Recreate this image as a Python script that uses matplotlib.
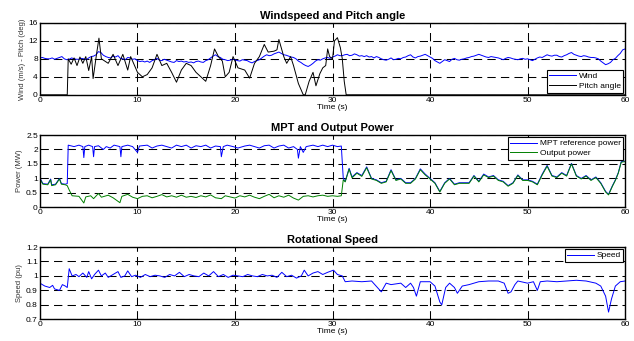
import numpy as np
import matplotlib
matplotlib.use('Agg')
import matplotlib.pyplot as plt

plt.rcParams['font.family'] = ['Liberation Sans', 'DejaVu Sans']

# ---- windspeed (m/s), sampled every 0.25 s
wind_t = np.arange(0, 60.25, 0.25)
wind = [8.2,
        8.3, 8.1, 8.0, 8.0, 8.2, 7.9, 8.1, 8.3, 8.5, 8.0, 7.8, 7.9, 8.2, 8.0, 7.9, 7.9, 8.1, 8.0, 7.8, 8.2,
        8.5, 8.6, 8.9, 9.6, 9.4, 8.8, 8.5, 8.3, 8.2, 8.6, 8.4, 8.7, 8.1, 8.0, 7.8, 8.3, 8.2, 7.9, 8.0, 7.6,
        7.4, 7.5, 7.3, 7.5, 7.2, 7.6, 7.8, 8.1, 7.7, 7.6, 7.9, 7.7, 7.5, 7.3, 7.2, 7.6, 7.4, 7.5, 7.3, 7.4,
        7.2, 7.3, 7.1, 7.4, 7.5, 7.3, 7.2, 7.6, 7.8, 8.2, 8.6, 8.9, 8.5, 8.3, 7.9, 7.8, 7.6, 7.7, 7.9, 7.8,
        7.6, 7.5, 7.8, 7.7, 7.6, 7.3, 7.1, 7.4, 7.6, 7.8, 8.2, 8.6, 8.9, 8.7, 8.8, 9.1, 9.3, 9.5, 9.2, 8.9,
        8.8, 8.6, 8.4, 8.3, 8.0, 7.5, 7.2, 6.8, 6.5, 6.3, 6.6, 7.0, 7.5, 7.8, 7.7, 8.0, 8.2, 8.3, 8.1, 8.4,
        8.6, 8.9, 8.7, 8.7, 8.9, 9.0, 8.7, 8.8, 9.1, 8.9, 8.6, 8.7, 8.5, 8.7, 8.4, 8.5, 8.2, 8.5, 8.3, 8.0,
        7.8, 7.7, 7.9, 8.2, 7.8, 7.9, 8.1, 8.0, 8.3, 8.4, 8.7, 8.9, 8.4, 8.2, 8.5, 8.6, 8.8, 9.0, 8.7, 8.4,
        8.1, 7.6, 7.3, 7.0, 7.4, 7.8, 7.6, 7.4, 7.9, 8.1, 7.8, 7.7, 7.9, 8.0, 8.2, 8.3, 8.5, 8.6, 8.8, 9.0,
        8.8, 8.6, 8.4, 8.3, 8.5, 8.4, 8.3, 8.2, 8.0, 7.8, 8.1, 8.3, 8.2, 8.0, 7.9, 7.8, 8.0, 8.1, 7.9, 8.0,
        7.8, 7.6, 7.9, 8.2, 8.4, 8.3, 8.6, 8.9, 8.7, 8.6, 8.8, 8.8, 8.5, 8.4, 8.7, 8.9, 9.2, 9.4, 9.0, 8.8,
        8.6, 8.5, 8.7, 8.6, 8.4, 8.3, 8.3, 8.2, 8.0, 7.5, 7.1, 6.7, 6.9, 7.2, 7.8, 8.1, 8.7, 9.2, 10.0, 10.2]

# ---- pitch angle (deg)
pitch_t = [0, 2.8, 2.9, 3.2, 3.5, 3.8, 4.1, 4.4, 4.7, 5.0, 5.3, 5.45, 5.8, 6.05, 6.3, 7.0,
           7.5, 8.0, 8.5, 9.0, 9.3, 9.7, 10.0, 10.5, 11.0, 11.5, 12.0, 12.5, 13.0, 13.5,
           14.0, 14.5, 15.0, 15.5, 16.0, 16.5, 17.0, 17.5, 17.9, 18.3, 18.7, 19.0, 19.4,
           19.8, 20.3, 21.0, 21.5, 22.0, 22.5, 23.0, 23.4, 24.0, 24.3, 24.5, 25.0, 25.3,
           25.7, 26.0, 26.5, 27.0, 27.2, 27.6, 28.0, 28.3, 28.7, 29.0, 29.3, 29.5, 29.7,
           30.0, 30.2, 30.5, 30.8, 31.0, 31.2, 31.4, 60]
pitch = [0, 0, 8.0, 6.8, 8.2, 6.5, 8.4, 7.0, 8.5, 5.4, 8.5, 3.6, 9.0, 12.6, 8.0, 7.0,
         9.0, 6.5, 9.0, 5.5, 8.5, 6.5, 5.0, 4.0, 4.5, 6.0, 9.0, 6.5, 7.0, 5.0,
         2.8, 5.5, 7.0, 6.5, 5.0, 4.0, 3.0, 6.5, 10.2, 8.5, 7.5, 4.0, 5.0,
         8.5, 6.0, 5.5, 3.7, 7.0, 8.5, 11.2, 9.5, 9.7, 10.0, 12.3, 8.5, 7.0,
         8.5, 6.5, 2.5, 0.0, 0.0, 3.0, 5.0, 2.0, 4.7, 6.0, 6.5, 10.2, 8.5,
         8.0, 12.0, 12.7, 10.5, 8.0, 3.0, 0.0, 0.0]

# ---- MPT reference power (MW)
mpt_t = [0, 0.3, 0.8, 1.1, 1.2, 1.6, 2.0, 2.2, 2.6, 2.8, 2.9, 3.5, 4.0, 4.4, 4.5, 4.6, 5.0,
         5.4, 5.5, 5.6, 6.0, 6.5, 6.8, 7.2, 7.6, 8.2, 8.3, 8.4, 9.0, 9.5, 10.0, 10.2, 11.0,
         11.5, 12.0, 12.5, 13.0, 13.5, 14.0, 14.5, 15.0, 15.5, 16.0, 16.5, 17.0, 17.5, 18.0,
         18.5, 18.6, 18.8, 19.2, 19.8, 20.3, 21.0, 21.5, 22.0, 22.5, 23.0, 23.5, 24.0, 24.5,
         25.0, 25.5, 26.0, 26.4, 26.5, 26.7, 27.0, 27.3, 28.0, 28.5, 29.0, 29.5, 30.0, 30.5,
         30.9, 31.1, 31.3, 31.7, 32.0, 32.5, 33.0, 33.5, 34.0, 34.5, 35.0, 35.5, 36.0, 36.5,
         37.0, 37.5, 38.0, 38.5, 39.0, 39.5, 40.0, 40.5, 41.0, 41.5, 42.0, 42.5, 43.0, 44.0,
         44.5, 45.0, 45.5, 46.0, 46.5, 47.0, 47.5, 48.0, 48.5, 49.0, 49.5, 50.0, 50.5, 51.0,
         51.5, 52.0, 52.5, 53.0, 53.5, 54.0, 54.5, 55.0, 55.5, 56.0, 56.5, 57.0, 57.5, 58.0,
         58.3, 58.7, 59.0, 59.3, 59.6, 60.0]
mpt = [1.02, 0.82, 0.80, 0.98, 0.78, 0.80, 1.0, 0.82, 0.80, 0.82, 2.15, 2.1, 2.15, 2.1, 1.72,
       2.1, 2.15, 2.1, 1.75, 2.1, 2.13, 2.0, 2.1, 2.05, 2.15, 2.1, 1.75, 2.1, 2.15, 2.1, 1.9,
       2.12, 2.15, 2.05, 2.12, 2.15, 2.1, 2.05, 2.15, 2.1, 2.15, 2.05, 2.13, 2.1, 2.15, 2.05,
       2.12, 2.1, 1.75, 2.1, 2.15, 2.1, 2.05, 2.12, 2.15, 2.1, 2.05, 2.13, 2.15, 2.05, 2.12,
       2.15, 2.05, 2.1, 2.0, 1.7, 2.1, 1.9, 2.1, 2.15, 2.1, 2.15, 2.1, 2.15, 2.1,
       2.12, 1.0, 0.9, 1.35, 1.05, 1.2, 1.1, 1.4, 1.0, 0.95, 0.85, 0.9, 1.3, 0.95,
       1.0, 0.85, 0.85, 1.0, 1.33, 1.15, 1.0, 0.85, 0.55, 0.85, 1.0, 0.8, 0.85, 0.85,
       1.1, 0.9, 1.15, 1.05, 1.1, 0.95, 0.9, 0.75, 0.85, 1.12, 0.95, 0.95, 0.9, 0.8,
       1.15, 1.45, 1.1, 1.05, 1.2, 1.1, 1.52, 1.1, 1.0, 1.1, 0.95, 1.05, 0.85, 0.55,
       0.45, 0.75, 0.95, 1.2, 1.58, 1.6]

# ---- output power (MW)
out_t = [0, 0.3, 0.8, 1.1, 1.2, 1.6, 2.0, 2.2, 2.6, 2.8, 3.0, 3.3, 4.0, 4.5, 4.7, 5.2, 5.5,
         6.0, 6.3, 7.0, 7.5, 8.2, 8.4, 9.0, 9.5, 10.0, 10.5, 11.0, 11.5, 12.0, 12.5, 13.0,
         13.5, 14.0, 14.5, 15.0, 15.5, 16.0, 16.5, 17.0, 17.5, 18.0, 18.6, 19.0, 19.5, 20.0,
         20.5, 21.0, 21.5, 22.0, 22.5, 23.0, 23.5, 24.0, 24.5, 25.0, 25.5, 26.0, 26.5, 27.0,
         27.5, 28.0, 28.5, 29.0, 29.5, 30.0, 30.5, 30.9, 31.1, 31.3, 31.7, 32.0, 32.5, 33.0,
         33.5, 34.0, 34.5, 35.0, 35.5, 36.0, 36.5, 37.0, 37.5, 38.0, 38.5, 39.0, 39.5, 40.0,
         40.5, 41.0, 41.5, 42.0, 42.5, 43.0, 44.0, 44.5, 45.0, 45.5, 46.0, 46.5, 47.0, 47.5,
         48.0, 48.5, 49.0, 49.5, 50.0, 50.5, 51.0, 51.5, 52.0, 52.5, 53.0, 53.5, 54.0, 54.5,
         55.0, 55.5, 56.0, 56.5, 57.0, 57.5, 58.0, 58.3, 58.7, 59.0, 59.3, 59.6, 60.0]
out = [0.98, 0.80, 0.78, 0.95, 0.75, 0.78, 0.98, 0.80, 0.78, 0.75, 0.6, 0.4, 0.38, 0.15, 0.36,
       0.4, 0.3, 0.48, 0.35, 0.42, 0.33, 0.16, 0.38, 0.45, 0.35, 0.3, 0.38, 0.4, 0.33, 0.38,
       0.44, 0.36, 0.4, 0.35, 0.42, 0.35, 0.38, 0.34, 0.4, 0.36, 0.43, 0.33, 0.3, 0.4, 0.36,
       0.32, 0.4, 0.36, 0.42, 0.35, 0.3, 0.38, 0.45, 0.33, 0.4, 0.35, 0.42, 0.32, 0.25, 0.38,
       0.4, 0.36, 0.4, 0.42, 0.38, 0.4, 0.38, 0.4, 0.95, 0.88, 1.32, 1.02, 1.18, 1.07,
       1.37, 0.98, 0.93, 0.83, 0.88, 1.27, 0.93, 0.98, 0.83, 0.83, 0.98, 1.3, 1.12, 0.98,
       0.83, 0.53, 0.83, 0.98, 0.78, 0.83, 0.83, 1.08, 0.88, 1.12, 1.03, 1.08, 0.93, 0.88,
       0.73, 0.83, 1.1, 0.93, 0.93, 0.88, 0.78, 1.12, 1.42, 1.08, 1.03, 1.18, 1.08, 1.5,
       1.08, 0.98, 1.08, 0.93, 1.03, 0.83, 0.53, 0.43, 0.73, 0.93, 1.18, 1.56, 1.58]

# ---- rotational speed (pu)
spd_t = [0, 0.5, 1.0, 1.3, 1.5, 2.0, 2.3, 2.6, 2.8, 3.0, 3.3, 3.7, 4.0, 4.4, 4.8, 5.0, 5.3,
         5.6, 6.0, 6.3, 6.7, 7.0, 7.5, 8.0, 8.3, 8.7, 9.0, 9.4, 9.8, 10.3, 10.8, 11.3, 11.8,
         12.3, 12.8, 13.3, 13.8, 14.3, 14.8, 15.3, 15.8, 16.3, 16.8, 17.3, 17.8, 18.3, 18.8,
         19.3, 19.8, 20.3, 20.8, 21.3, 21.8, 22.3, 22.8, 23.3, 23.8, 24.3, 24.8, 25.3, 25.8,
         26.3, 26.8, 27.1, 27.5, 28.0, 28.5, 29.0, 29.5, 30.1, 30.5, 31.0, 31.3, 32.0, 33.0,
         34.0, 35.0, 35.5, 36.0, 37.0, 37.5, 38.0, 38.3, 38.6, 39.0, 40.0, 40.5, 41.0, 41.2,
         41.6, 42.0, 42.5, 42.8, 43.3, 44.0, 45.0, 46.0, 47.0, 47.6, 48.0, 48.3, 48.7, 49.0,
         50.0, 50.6, 51.0, 51.3, 52.0, 53.0, 54.0, 55.0, 56.0, 57.0, 57.5, 58.0, 58.3, 58.6,
         59.0, 59.5, 60.0]
spd = [0.95, 0.93, 0.92, 0.935, 0.91, 0.90, 0.94, 0.93, 0.92, 1.05, 1.0, 1.01, 0.995, 1.02,
       0.99, 1.03, 0.98, 1.01, 1.04, 1.0, 1.02, 0.99, 1.01, 1.03, 0.99, 1.0, 1.035, 0.995, 1.005,
       0.99, 1.01, 0.995, 1.005, 1.0, 0.99, 1.01, 1.0, 1.025, 0.995, 1.01, 1.0, 0.995, 1.02,
       1.0, 1.03, 0.995, 1.01, 0.99, 1.005, 1.0, 0.995, 1.01, 1.0, 0.995, 1.01, 1.0, 1.005,
       0.99, 1.025, 0.995, 1.005, 0.985, 1.0, 1.04, 1.0, 1.02, 1.03, 1.01, 1.025, 1.04, 1.01,
       1.0, 0.96, 0.965, 0.96, 0.965, 0.89, 0.95, 0.94, 0.95, 0.92, 0.95, 0.92, 0.86, 0.96,
       0.96, 0.93, 0.82, 0.80, 0.92, 0.95, 0.92, 0.88, 0.93, 0.94, 0.96, 0.965, 0.965, 0.95,
       0.88, 0.89, 0.94, 0.965, 0.95, 0.96, 0.9, 0.96, 0.965, 0.96, 0.965, 0.97, 0.965, 0.95,
       0.93, 0.86, 0.75, 0.84, 0.93, 0.96, 0.965]

FS = 6
BLUE = '#0000ff'
GREEN = '#008000'


def style_ax(ax, ylim, yticks, ylabel, title):
    ax.set_xlim(0, 60)
    ax.set_ylim(*ylim)
    ax.set_xticks([0, 10, 20, 30, 40, 50, 60])
    ax.set_yticks(yticks)
    ax.set_yticklabels([('%g' % v) for v in yticks])
    ax.tick_params(direction='in', length=2, width=0.6, labelsize=FS, pad=1.5,
                   top=True, right=True)
    ax.grid(True, color='black', linestyle=(0, (8, 5)), linewidth=0.75)
    for sp in ax.spines.values():
        sp.set_linewidth(1.0)
    ax.set_ylabel(ylabel, fontsize=5.5, color='#333333', labelpad=2)
    ax.set_xlabel('Time (s)', fontsize=FS, labelpad=0)
    ax.set_title(title, fontsize=8, fontweight='bold', pad=3)


def add_legend(ax, loc):
    leg = ax.legend(loc=loc, fontsize=FS, fancybox=False, framealpha=1,
                    edgecolor='black', handlelength=3.2, handletextpad=0.3,
                    borderpad=0.3, labelspacing=0.25, borderaxespad=0.25)
    leg.get_frame().set_linewidth(0.8)
    return leg


fig = plt.figure(figsize=(6.34, 3.41), dpi=100)
ax1 = fig.add_axes([0.063, 0.722, 0.923, 0.211])
ax2 = fig.add_axes([0.063, 0.392, 0.923, 0.212])
ax3 = fig.add_axes([0.063, 0.0636, 0.923, 0.212])

ax1.plot(wind_t, wind, color=BLUE, lw=0.7, label='Wind')
ax1.plot(pitch_t, pitch, color='black', lw=0.7, label='Pitch angle')
style_ax(ax1, (0, 16), [0, 4, 8, 12, 16], 'Wind (m/s) - Pitch (deg)', 'Windspeed and Pitch angle')
add_legend(ax1, 'lower right')

ax2.plot(mpt_t, mpt, color=BLUE, lw=0.7, label='MPT reference power')
ax2.plot(out_t, out, color=GREEN, lw=0.7, label='Output power')
style_ax(ax2, (0, 2.5), [0, 0.5, 1, 1.5, 2, 2.5], 'Power (MW)', 'MPT and Output Power')
add_legend(ax2, 'upper right')

ax3.plot(spd_t, spd, color=BLUE, lw=0.7, label='Speed')
style_ax(ax3, (0.7, 1.2), [0.7, 0.8, 0.9, 1, 1.1, 1.2], 'Speed (pu)', 'Rotational Speed')
add_legend(ax3, 'upper right')

fig.savefig('out.png', dpi=100)
